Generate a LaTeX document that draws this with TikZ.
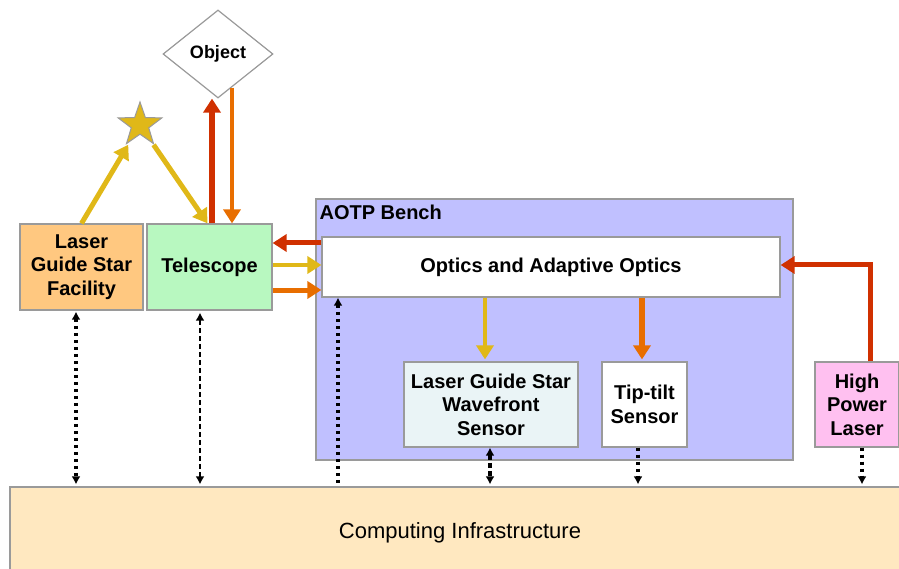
\documentclass[tikz,border=0pt]{standalone}
\usepackage{fontspec}
\setmainfont{Liberation Sans}
\usepackage{tikz}
\usetikzlibrary{shapes.geometric, arrows.meta, positioning, calc}

\definecolor{lgsorange}{HTML}{FFC880}
\definecolor{telgreen}{HTML}{B8F8C0}
\definecolor{benchblue}{HTML}{C0C0FF}
\definecolor{wfsgray}{HTML}{EAF4F6}
\definecolor{laserpink}{HTML}{FFC0F0}
\definecolor{compbeige}{HTML}{FFE8C0}
\definecolor{beamyellow}{HTML}{E0B818}
\definecolor{beamred}{HTML}{D03000}
\definecolor{beamorange}{HTML}{E86E00}
\definecolor{edgegray}{HTML}{9A9A9A}

\begin{document}
\begin{tikzpicture}[x=1pt, y=-1pt,
	every node/.style={font=\fontsize{20}{23.5}\selectfont\bfseries},
	box/.style={draw=edgegray, line width=1.2pt, rectangle, align=center, inner sep=0pt},
	beam/.style={line width=#1, -{Triangle[length=14pt, width=17pt]}},
	ltip/.tip={Latex[length=8pt,width=9pt]},
	link/.style={line width=3.2pt, dash pattern=on 3pt off 4pt, ltip-ltip}]
		\useasboundingbox (0,0) rectangle (899,569);
		\clip (0,0) rectangle (899,569);
		% boxes
		\node[box, fill=compbeige, minimum width=900, minimum height=92, font=\fontsize{22}{26}\selectfont] (comp) at (460,533) {Computing Infrastructure};
		\node[box, fill=benchblue, minimum width=477, minimum height=261] (bench) at (554.5,329.5) {};
		\node[anchor=north west, inner sep=0pt] (benchlabel) at ([xshift=4, yshift=-6]bench.north west) {AOTP Bench};
		\node[box, fill=white, minimum width=458, minimum height=60] (optics) at (551,267) {Optics and Adaptive Optics};
		\node[box, fill=lgsorange, minimum width=123, minimum height=86] (lgsf) at (81.5,267) {Laser\\Guide Star\\Facility};
		\node[box, fill=telgreen, minimum width=125, minimum height=86] (tel) at (209.5,267) {Telescope};
		\node[box, fill=wfsgray, minimum width=174, minimum height=85] (wfs) at (491,404.5) {Laser Guide Star\\Wavefront\\Sensor};
		\node[box, fill=white, minimum width=85, minimum height=85] (tt) at (644.5,404.5) {Tip-tilt\\Sensor};
		\node[box, fill=laserpink, minimum width=84, minimum height=85] (hpl) at (857,404.5) {High\\Power\\Laser};
		\node[diamond, draw=edgegray, line width=1.2pt, fill=white, inner sep=0pt, minimum width=110, minimum height=88, font=\fontsize{18}{22}\selectfont\bfseries] (obj) at (218,54) {Object};
		\node[star, star points=5, star point ratio=2.5, draw=edgegray, line width=1pt, fill=beamyellow, minimum size=46, inner sep=0pt] (gstar) at (140,125) {};

		% light paths
		\draw[beam=5pt, beamyellow, shorten >=23pt] (lgsf.north) -- (gstar.center);
		\draw[beam=5pt, beamyellow, shorten <=24pt] (gstar.center) -- ([xshift=-2]tel.north);
		\draw[beam=6pt, beamred] ([xshift=2.5]tel.north) -- ([xshift=-6]obj.south);
		\draw[beam=4.5pt, beamorange] ([xshift=14, yshift=11]obj.south) -- ([xshift=22.5]tel.north);
		\draw[beam=5pt, beamred] ([yshift=24]optics.west) -- ([yshift=24]tel.east);
		\draw[beam=4.5pt, beamyellow] ([yshift=2]tel.east) -- ([yshift=2]optics.west);
		\draw[beam=5pt, beamorange] ([yshift=-23]tel.east) -- ([yshift=-23]optics.west);
		\draw[beam=4.5pt, beamyellow, shorten >=2pt] ([xshift=-6]wfs.north |- optics.south) -- ([xshift=-6]wfs.north);
		\draw[beam=6pt, beamorange, shorten >=2pt] ([xshift=-2.5]tt.north |- optics.south) -- ([xshift=-2.5]tt.north);
		\draw[beam=5pt, beamred] ([xshift=13]hpl.north) |- ([yshift=2]optics.east);

		% control links
		\draw[link] ([xshift=-5.5, yshift=-1]lgsf.south) -- ([xshift=-5.5, yshift=2]lgsf.south |- comp.north);
		\draw[link, line width=1.6pt, dash pattern=on 5pt off 3pt] ([xshift=-9.5, yshift=-2]tel.south) -- ([xshift=-9.5, yshift=2]tel.south |- comp.north);
		\draw[link, ltip-] (optics.south -| 338,0) -- ([yshift=3]comp.north -| 338,0);
		\draw[link, dash pattern=on 5pt off 3pt] ([xshift=-1]wfs.south) -- ([xshift=-1, yshift=2]wfs.south |- comp.north);
		\draw[link, -ltip] ([xshift=-6.5]tt.south) -- ([xshift=-6.5, yshift=2]tt.south |- comp.north);
		\draw[link, -ltip] ([xshift=5]hpl.south) -- ([xshift=5, yshift=2]hpl.south |- comp.north);
	\end{tikzpicture}
\end{document}
